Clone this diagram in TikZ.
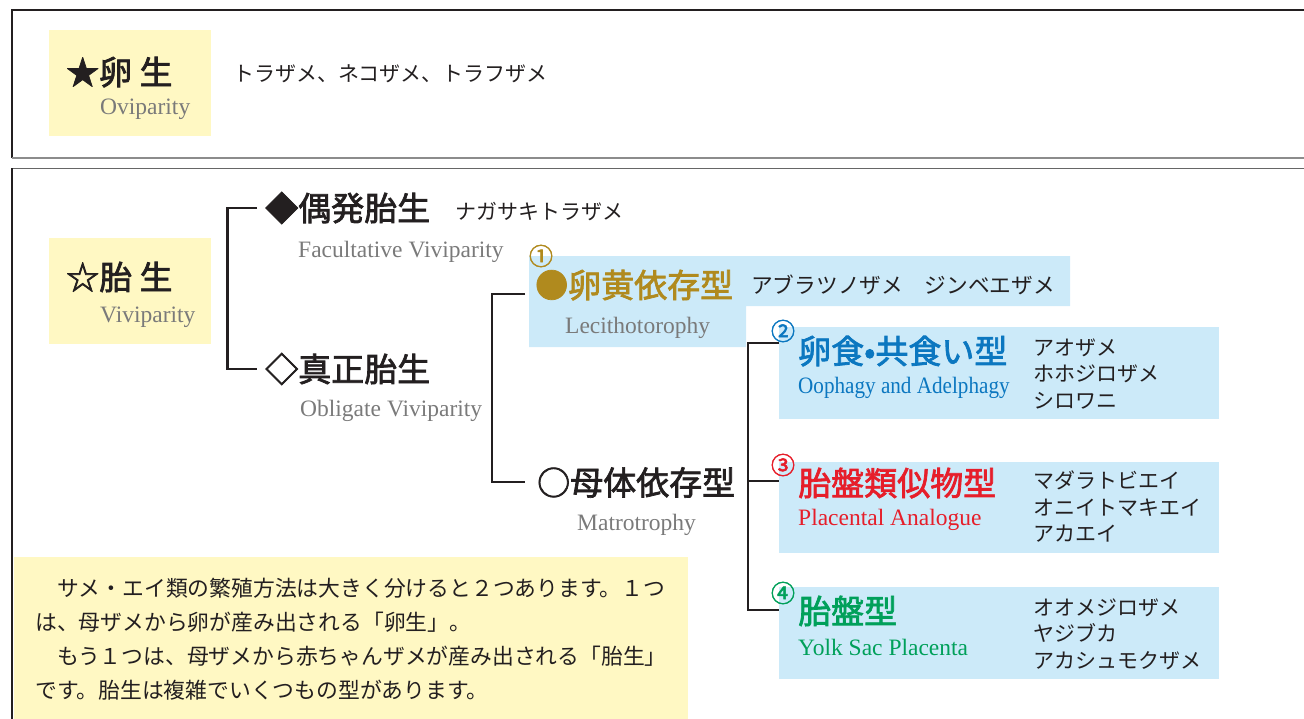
\documentclass[tikz,border=0pt]{standalone}
\usepackage{fontspec}
\setmainfont{Liberation Serif}
\newfontfamily\jp{Noto Sans CJK JP}
\newfontfamily\jpm{Noto Sans CJK JP}[FakeBold=2.2]
\definecolor{ylw}{HTML}{FFF8C3}
\definecolor{blu}{HTML}{CCEAF9}
\definecolor{ink}{HTML}{231F20}
\definecolor{gry}{HTML}{7A7A7A}
\definecolor{gold}{HTML}{B08A1E}
\definecolor{tblue}{HTML}{0B77C0}
\definecolor{tred}{HTML}{E61E2A}
\definecolor{tgreen}{HTML}{00A05A}
\tikzset{
  ttl/.style={anchor=base west, inner sep=0pt, text=ink, font=\jpm\fontsize{33}{36}\selectfont},
  spc/.style={anchor=base west, inner sep=0pt, text=ink, font=\jp\fontsize{21}{24}\selectfont},
  eng/.style={anchor=base west, inner sep=0pt, text=gry, font=\fontsize{23.5}{26}\selectfont},
  num/.style={inner sep=0pt, font=\jpm\fontsize{24}{24}\selectfont},
  body/.style={anchor=base west, inner sep=0pt, text=ink, font=\jp\fontsize{21.8}{24}\selectfont},
  brk/.style={draw=ink, line width=2.4pt},
}
\begin{document}
\begin{tikzpicture}[x=1pt,y=-1pt]
\useasboundingbox (0,0) rectangle (1304,718);
% frames
\draw[ink, line width=1.1pt] (12,158) -- (12,10) -- (1310,10);
\draw[gray!90, line width=2.4pt] (11.5,158) -- (1310,158);
\draw[gray!80!black, line width=1.3pt] (1310,168.5) -- (12,168.5);
\draw[ink, line width=1.1pt] (12,168) -- (12,720);
% coloured panels
\fill[ylw] (49,30) rectangle (211,136);
\fill[ylw] (49,238) rectangle (211,344);
\fill[ylw] (13.5,557) rectangle (688,720);
\fill[blu] (529,256) -- (1070,256) -- (1070,306) -- (746,306) -- (746,347) -- (529,347) -- cycle;
\fill[blu] (779,327) rectangle (1219,419);
\fill[blu] (779,462) rectangle (1219,553);
\fill[blu] (779,587) rectangle (1219,679);
% oviparity
\node[ttl] (ovi) at (66,84.5) {★卵 生};
\node[eng] (ovien) at (100,114) {Oviparity};
\node[spc] (ovisp) at (233,81) {トラザメ、ネコザメ、トラフザメ};
% viviparity
\node[ttl] (vivi) at (66,289.5) {☆胎 生};
\node[eng] (vivien) at (100,322) {Viviparity};
% facultative
\node[ttl] (fac) at (265,220.5) {◆偶発胎生};
\node[spc] (facsp) at (455,219) {ナガサキトラザメ};
\node[eng] (facen) at (298,257) {Facultative Viviparity};
% obligate
\node[ttl] (obl) at (265,381.5) {◇真正胎生};
\node[eng] (oblen) at (300,416) {Obligate Viviparity};
% lecithotrophy
\node[num, text=gold] (n1) at (541,256) {①};
\node[ttl, text=gold] (lec) at (535,297.5) {●卵黄依存型};
\node[spc, font=\jp\fontsize{21.7}{24}\selectfont] (lecsp) at (751,293) {アブラツノザメ　ジンベエザメ};
\node[eng] (lecen) at (565,333) {Lecithotorophy};
% matrotrophy
\node[ttl] (mat) at (537,495) {○母体依存型};
\node[eng] (maten) at (577,530) {Matrotrophy};
% oophagy
\node[num, text=tblue] (n2) at (783,331) {②};
\node[ttl, text=tblue] (oop) at (798,363.5) {卵食•共食い型};
\node[eng, text=tblue] (oopen) at (798,393) {\scalebox{0.9}[1]{Oophagy and Adelphagy}};
\node[spc] (oop1) at (1033,355) {アオザメ};
\node[spc] (oop2) at (1033,381) {ホホジロザメ};
\node[spc] (oop3) at (1033,408) {シロワニ};
% placental analogue
\node[num, text=tred] (n3) at (783,465) {③};
\node[ttl, text=tred] (pla) at (798,495.5) {胎盤類似物型};
\node[eng, text=tred] (plaen) at (798,525) {Placental Analogue};
\node[spc] (pla1) at (1033,488) {マダラトビエイ};
\node[spc] (pla2) at (1033,515) {オニイトマキエイ};
\node[spc] (pla3) at (1033,541) {アカエイ};
% yolk sac placenta
\node[num, text=tgreen] (n4) at (783,593) {④};
\node[ttl, text=tgreen] (ysp) at (798,623.5) {胎盤型};
\node[eng, text=tgreen] (yspen) at (798,655) {Yolk Sac Placenta};
\node[spc] (ysp1) at (1033,615) {オオメジロザメ};
\node[spc] (ysp2) at (1033,641) {ヤジブカ};
\node[spc] (ysp3) at (1033,668) {アカシュモクザメ};
% brackets
\coordinate (b1a) at (257,208);
\coordinate (b1b) at (227.5,208);
\coordinate (b1c) at (227.5,369);
\coordinate (b1d) at (257,369);
\draw[brk] (b1a) -- (b1b) -- (b1c) -- (b1d);
\coordinate (b2a) at (525,294);
\coordinate (b2b) at (492,294);
\coordinate (b2c) at (492,482);
\coordinate (b2d) at (525,482);
\draw[brk] (b2a) -- (b2b) -- (b2c) -- (b2d);
\coordinate (b3a) at (779,343);
\coordinate (b3b) at (748,343);
\coordinate (b3c) at (748,610);
\coordinate (b3d) at (779,610);
\coordinate (b3m) at (748,481);
\coordinate (b3n) at (779,481);
\draw[brk] (b3a) -- (b3b) -- (b3c) -- (b3d);
\draw[brk] (b3m) -- (b3n);
% body text
\node[body] (t1) at (35,596) {　サメ・エイ類の繁殖方法は大きく分けると２つあります。１つ};
\node[body] (t2) at (35,630) {は、母ザメから卵が産み出される「卵生」。};
\node[body] (t3) at (35,664) {　もう１つは、母ザメから赤ちゃんザメが産み出される「胎生」};
\node[body] (t4) at (35,698) {です。胎生は複雑でいくつもの型があります。};
\end{tikzpicture}
\end{document}
